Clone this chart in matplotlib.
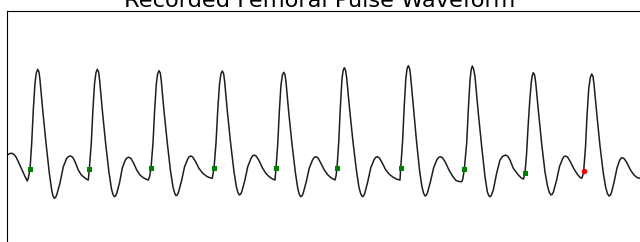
import matplotlib
matplotlib.use("Agg")
import matplotlib.pyplot as plt

title = "Recorded Femoral Pulse Waveform"

# time in centiseconds, amplitude in arbitrary units
t_wave = [
    6, 8, 10, 12, 14, 16, 18, 20, 22.5, 25, 27.3,
    28.3, 30, 31.7, 33.3, 35, 36.3, 37.7, 39, 40, 42.7, 46, 49.3, 51.7, 53, 54.3, 55.5, 56.7, 60, 63.3, 66.7, 68.7, 70.7, 72.7, 75, 78.3, 81, 83.3, 86.7, 88.3,
    89.3, 91.3, 92.9, 94.6, 95.9, 97.3, 98.6, 99.6, 102.3, 105.6, 108.9, 111.5, 113, 114.3, 115.5, 116.7, 119.5, 122.3, 125.3, 127.2, 129, 131, 133.5, 137, 140, 143, 146, 148.3,
    149.5, 151, 153, 154.6, 156.3, 157.6, 159, 160.3, 161.3, 164, 167.3, 170.5, 173, 174.6, 176, 177.2, 178.4, 181.5, 184.5, 187.5, 189, 190.7, 192.7, 195.5, 199, 203, 207, 210, 212.3,
    214, 216, 217.7, 219.5, 220.9, 222.3, 223.6, 224.6, 227.3, 230.6, 233.9, 236.3, 237.9, 239.3, 240.5, 241.7, 244.8, 247.8, 251, 252.6, 254.3, 256.3, 259, 262.5, 266, 269.5, 272.5, 275,
    276, 277.8, 279.3, 280.9, 282.3, 283.7, 285, 286, 288.7, 292, 295.3, 297.7, 299.3, 300.7, 301.9, 303.1, 306.2, 309.3, 312.5, 314.2, 316, 318, 320.5, 324, 327.5, 331, 335,
    336, 337, 338.8, 340.3, 341.9, 343, 344.3, 345.6, 346.7, 349.5, 353, 356.5, 359, 360.8, 362.3, 363.5, 364.7, 367.7, 370.7, 373.9, 375.6, 377.3, 379.3, 382, 385.5, 389.5, 393.5, 397, 400,
    400.7, 402.6, 404.2, 405.8, 407, 408.3, 409.6, 410.6, 413.3, 416.4, 419.5, 421.8, 423.5, 425, 426.2, 427.4, 430.5, 433.7, 437, 438.8, 440.7, 442.7, 445.5, 449, 452.5, 456, 459, 461.7,
    462.8, 464.3, 466.7, 468.3, 470, 471.2, 472.3, 473.6, 475, 478.3, 481.7, 485, 487.3, 488.7, 490, 491.3, 493.3, 496.7, 500, 502.5, 505.7, 507.8, 510, 513.3, 518.3, 521.7, 523.5,
    525, 526.5, 528, 529.8, 531.3, 532.3, 533.3, 534.6, 535.7, 538.5, 541.8, 545, 547.5, 549.3, 551, 552.2, 553.4, 556.5, 559.5, 562.5, 564, 565.7, 567.7, 570.5, 574, 577.5, 580, 581.7, 582.8,
    583.7, 585.5, 587, 588.7, 590.3, 591.7, 593, 594, 596.7, 600, 603.3, 605.6, 607.4, 609, 610.2, 611.4, 614.2, 617, 619.5, 621, 622.3, 624.3, 627, 630.5, 634, 637, 640, 644,
]
v_wave = [
    44, 45.5, 46.5, 46.7, 45.5, 43, 39, 34.5, 29, 23.5, 19,
    22, 30.7, 57, 90, 117, 127, 130.7, 128, 120, 90, 57, 27, 10, 4, 1.7, 2.5, 5, 17, 33.3, 41.7, 43.6, 44, 42.7, 38.3, 30, 25.5, 23.3, 20.7, 20,
    31, 57, 90, 117, 127, 130.7, 128, 120, 90, 57, 28, 11, 5.5, 3.3, 4, 6.5, 17, 32, 40, 42.3, 42.7, 41.5, 37, 29.5, 25, 22.5, 20.8, 20,
    23, 31.7, 57, 89, 116, 126, 129.3, 127, 119, 89, 57, 29, 13, 7, 4.3, 5, 7.5, 19, 33, 40.5, 43.2, 44, 43, 38.5, 31.5, 26.5, 23.5, 22.2, 21.7,
    31.7, 57, 89, 116, 126, 129, 126.5, 119, 89, 57, 29, 13.5, 7.5, 5, 5.7, 8, 19.5, 33.5, 41.5, 44.2, 45, 43.8, 39.5, 32, 26.5, 23, 21, 20,
    31.7, 57, 88, 114, 124.5, 127.7, 125.5, 118, 88, 56, 28, 12, 5.5, 3.3, 4, 6.5, 18, 32, 40, 42.6, 43.3, 42, 37.5, 30.5, 25.5, 22.2, 20,
    24, 31.7, 59, 92, 120, 129, 132.3, 129.5, 122, 92, 58, 29, 12.5, 6, 3.3, 4, 6.5, 18, 32, 40, 42.6, 43.3, 42, 37.5, 30.5, 25.5, 22.5, 20.7, 20,
    31.7, 59, 93, 121, 131, 134.3, 131.5, 124, 94, 60, 30, 14, 7, 4, 4.7, 7, 18.5, 32.5, 40.5, 42.7, 43.3, 42, 37.5, 30, 24, 19.5, 18.5, 18.3,
    21, 30.7, 57, 90, 120, 130.5, 134, 131, 123.3, 87, 53.3, 23.3, 8.3, 4.5, 3.3, 4.5, 10, 27, 40, 43.5, 45, 43.7, 40, 31.7, 25, 21.7, 21,
    27.3, 45, 72, 100, 118, 124.5, 127.3, 125, 117.5, 88, 55, 28, 14, 7.5, 5, 5.7, 8, 19.5, 33.5, 41, 43.4, 44, 42.7, 38, 31, 25.5, 22.7, 21.7, 24.5,
    29.3, 53, 84, 111, 122.5, 126, 123.5, 116, 87, 54, 27, 13, 6.5, 4, 4.7, 7, 18.5, 32, 39.5, 41.8, 42.3, 41.2, 37, 30, 25, 22.5, 21.7, 20.5,
]

# detected pulse onsets (green) and the latest onset (red)
onset_t = [30, 89.3, 151, 214, 276, 337, 400.7, 464.3, 525]
onset_v = [30.7, 31, 31.7, 31.7, 31.7, 31.7, 31.7, 30.7, 27.3]
last_onset_t = [583.7]
last_onset_v = [29.3]

W, H = 640, 242
fig = plt.figure(figsize=(W / 100, H / 100), dpi=100)
fig.patch.set_facecolor("white")

left_px, top_px, right_px, bottom_px = 6.5, 10.5, 700, 262
ax = fig.add_axes([left_px / W, 1 - bottom_px / H,
                   (right_px - left_px) / W, (bottom_px - top_px) / H])
ax.set_xlim(6.5, 700)
ax.set_ylim(200 - 262, 200 - 10.5)
ax.set_xticks([])
ax.set_yticks([])
for s in ax.spines.values():
    s.set_linewidth(0.8)
    s.set_color("black")

ax.plot(t_wave, v_wave, color="#1e1e1e", lw=1.1, solid_joinstyle="round",
        solid_capstyle="round", zorder=2)
ax.plot(onset_t, onset_v, linestyle="none", marker="s", ms=3.6,
        color="#008000", markeredgewidth=0, zorder=3)
ax.plot(last_onset_t, last_onset_v, linestyle="none", marker="o", ms=4.0,
        color="#ff0000", markeredgewidth=0, zorder=3)

fig.text(0.5, 1 - 6.8 / H, title, ha="center", va="baseline",
         fontsize=16.2, family="DejaVu Sans", color="black")

fig.savefig("out.png", dpi=100)
